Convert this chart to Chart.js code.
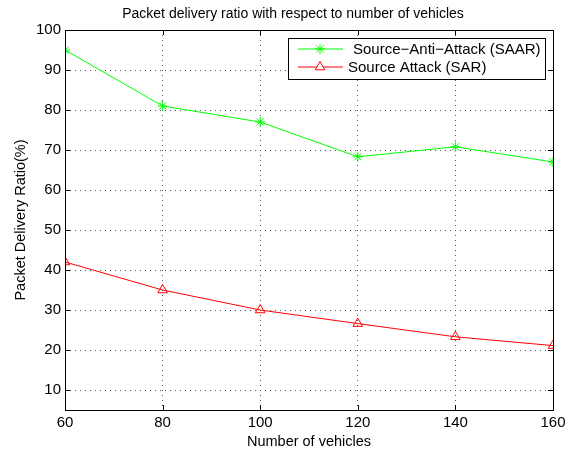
<!DOCTYPE html>
<html>
<head>
<meta charset="utf-8">
<script src="https://cdn.jsdelivr.net/npm/chart.js@4.4.0/dist/chart.umd.min.js"></script>
<style>
  html, body { margin: 0; padding: 0; background: #fff; }
  #wrap { width: 572px; height: 451px; }
</style>
</head>
<body>
<div id="wrap"><canvas id="c" width="572" height="451"></canvas></div>
<script>
  var vehicles = [60, 80, 100, 120, 140, 160];
  var saar = [95, 81, 77, 68.3, 70.8, 67];
  var sar = [42, 35, 30, 26.6, 23.3, 21.1];
  var yTicks = [10, 20, 30, 40, 50, 60, 70, 80, 90, 100];
  var xTicks = [60, 80, 100, 120, 140, 160];
  var chartTitle = 'Packet delivery ratio with respect to number of vehicles';

  var FONT = '"Liberation Sans", Arial, Helvetica, sans-serif';

  function toPoints(xs, ys) {
    return xs.map(function (x, i) { return { x: x, y: ys[i] }; });
  }

  // box, inward ticks, title and the legend drawn MATLAB style
  var matlabFrame = {
    id: 'matlabFrame',
    afterDraw: function (chart) {
      var ctx = chart.ctx;
      var a = chart.chartArea;
      var xs = chart.scales.x, ys = chart.scales.y;
      ctx.save();
      ctx.setLineDash([]);
      ctx.strokeStyle = '#000';
      ctx.lineWidth = 1;
      ctx.strokeRect(Math.round(a.left) + 0.5, Math.round(a.top) + 0.5,
        Math.round(a.right - a.left), Math.round(a.bottom - a.top));
      ctx.beginPath();
      xTicks.forEach(function (v) {
        var px = Math.round(xs.getPixelForValue(v)) + 0.5;
        ctx.moveTo(px, a.bottom); ctx.lineTo(px, a.bottom - 5);
        ctx.moveTo(px, a.top); ctx.lineTo(px, a.top + 5);
      });
      yTicks.forEach(function (v) {
        var py = Math.round(ys.getPixelForValue(v)) + 0.5;
        ctx.moveTo(a.left, py); ctx.lineTo(a.left + 5, py);
        ctx.moveTo(a.right, py); ctx.lineTo(a.right - 5, py);
      });
      ctx.stroke();

      // title
      ctx.fillStyle = '#000';
      ctx.font = '14px ' + FONT;
      ctx.textAlign = 'center';
      ctx.textBaseline = 'middle';
      ctx.fillText(chartTitle, 293, 14);

      // legend
      var bx = a.right - 265, by = a.top + 8, bw = 257, bh = 41;
      ctx.fillStyle = '#fff';
      ctx.fillRect(bx, by, bw, bh);
      ctx.strokeStyle = '#000';
      ctx.strokeRect(bx + 0.5, by + 0.5, bw, bh);
      ctx.font = '15px ' + FONT;
      ctx.textAlign = 'left';
      chart.data.datasets.forEach(function (ds, i) {
        var ry = by + 11 + i * 18;
        ctx.strokeStyle = ds.borderColor;
        ctx.lineWidth = 1;
        ctx.beginPath();
        ctx.moveTo(bx + 10, ry); ctx.lineTo(bx + 55, ry);
        ctx.stroke();
        ctx.fillStyle = '#fff';
        Chart.helpers.drawPoint(ctx, {
          pointStyle: ds.pointStyle, radius: ds.pointRadius, rotation: 0,
          borderWidth: 1
        }, bx + 32, ry);
        ctx.fillStyle = '#000';
        ctx.fillText(ds.label, bx + (i === 0 ? 65 : 60), ry + 1);
      });
      ctx.restore();
    }
  };

  new Chart(document.getElementById('c'), {
    type: 'line',
    data: {
      datasets: [{
        label: 'Source\u2212Anti\u2212Attack (SAAR)',
        data: toPoints(vehicles, saar),
        borderColor: '#00ff00',
        backgroundColor: '#00ff00',
        borderWidth: 1,
        pointStyle: 'star',
        pointRadius: 5,
        pointBorderWidth: 1,
        tension: 0
      }, {
        label: 'Source Attack (SAR)',
        data: toPoints(vehicles, sar),
        borderColor: '#ff0000',
        backgroundColor: 'rgba(255,255,255,0)',
        borderWidth: 1,
        pointStyle: 'triangle',
        pointRadius: 5.5,
        pointBorderWidth: 1,
        tension: 0
      }]
    },
    options: {
      responsive: false,
      animation: false,
      layout: { padding: { left: 0, right: 19, top: 30, bottom: 0 } },
      plugins: {
        legend: { display: false },
        tooltip: { enabled: false },
        title: { display: false }
      },
      scales: {
        x: {
          type: 'linear',
          min: 60,
          max: 160,
          afterBuildTicks: function (s) { s.ticks = xTicks.map(function (v) { return { value: v }; }); },
          afterFit: function (s) { s.height = 41; },
          ticks: { color: '#000', font: { family: FONT, size: 15 }, padding: 4 },
          grid: { color: '#555', drawTicks: false, lineWidth: 1 },
          border: { display: false, dash: [1, 4] },
          title: {
            display: true, text: 'Number of vehicles', color: '#000',
            font: { family: FONT, size: 14.5 }, padding: { top: 0, bottom: 0 }
          }
        },
        y: {
          min: 5,
          max: 100,
          afterBuildTicks: function (s) { s.ticks = yTicks.map(function (v) { return { value: v }; }); },
          afterFit: function (s) { s.width = 65; },
          ticks: { color: '#000', font: { family: FONT, size: 15 }, padding: 4 },
          grid: { color: '#555', drawTicks: false, lineWidth: 1 },
          border: { display: false, dash: [1, 4] },
          title: {
            display: true, text: 'Packet Delivery Ratio(%)', color: '#000',
            font: { family: FONT, size: 14.5 }, padding: { top: 12, bottom: 6 }
          }
        }
      }
    },
    plugins: [matlabFrame]
  });
</script>
</body>
</html>
